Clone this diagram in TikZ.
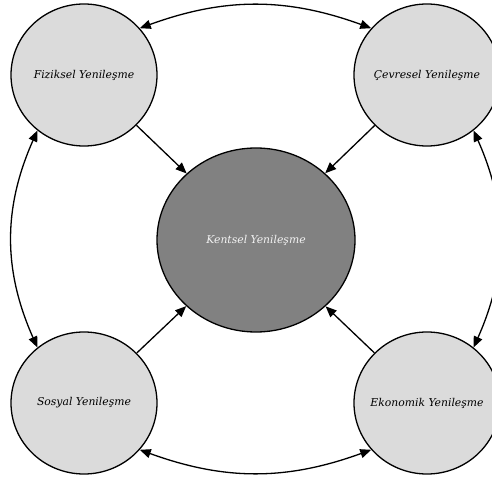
\documentclass[tikz,border=0pt]{standalone}
\usepackage{fontspec}
\setmainfont{DejaVu Serif}
\usetikzlibrary{arrows.meta,shapes.geometric}
\definecolor{sidefill}{HTML}{DBDBDB}
\definecolor{corefill}{HTML}{818181}
\definecolor{coretext}{HTML}{F2F2F2}
\begin{document}
\begin{tikzpicture}[x=1pt,y=1pt,
  aspect/.style={ellipse,draw=black,line width=1.3pt,fill=sidefill,
    minimum width=146pt,minimum height=142pt,inner sep=0pt,
    label={[font=\fontsize{10.8}{12}\selectfont\itshape]center:#1}},
  core/.style={ellipse,draw=black,line width=1.3pt,fill=corefill,
    minimum width=198pt,minimum height=184pt,inner sep=0pt,
    label={[text=coretext,font=\fontsize{10.8}{12}\selectfont\itshape]center:#1}},
  link/.style={line width=1.3pt,-{Triangle[length=11pt,width=9pt]}},
  mutual/.style={line width=1.3pt,{Triangle[length=11pt,width=9pt]}-{Triangle[length=11pt,width=9pt]}}]
  \useasboundingbox (0,0) rectangle (492,482);
  \clip (0,0) rectangle (492,482);
  % the four dimensions around the core
  \node[aspect={Fiziksel Yenileşme}] (fiz) at (84,407) {};
  \node[aspect={Çevresel Yenileşme}] (cev) at (427,407) {};
  \node[aspect={Sosyal Yenileşme}] (sos) at (84,79) {};
  \node[aspect={Ekonomik Yenileşme}] (eko) at (427,79) {};
  \node[core={Kentsel Yenileşme}] (ken) at (256,242) {};
  % each dimension feeds the core
  \draw[link] (fiz) -- (ken);
  \draw[link] (cev) -- (ken);
  \draw[link] (sos) -- (ken);
  \draw[link] (eko) -- (ken);
  % mutual links between neighbouring dimensions
  \draw[mutual] (fiz.40) to[bend left=20] (cev.140);
  \draw[mutual] (sos.-40) to[bend right=20] (eko.-140);
  \draw[mutual] (fiz.-130) to[bend right=24] (sos.130);
  \draw[mutual] (cev.-50) to[bend left=24] (eko.50);
\end{tikzpicture}
\end{document}
